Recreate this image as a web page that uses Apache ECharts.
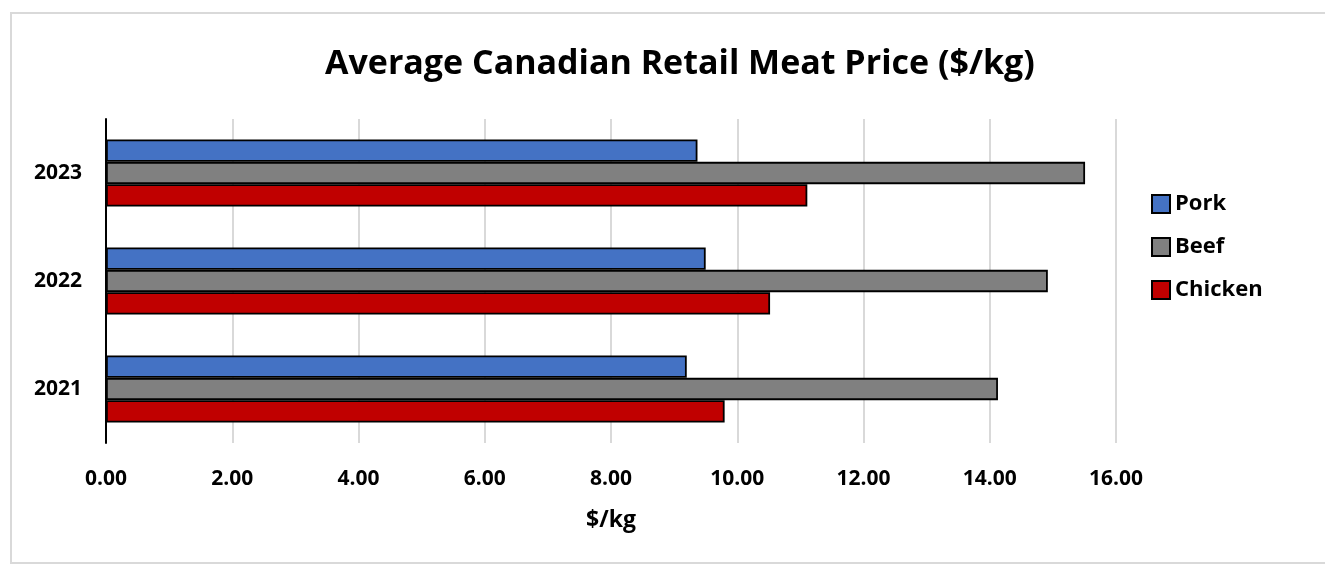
<!DOCTYPE html>
<html>
<head>
<meta charset="utf-8">
<title>Average Canadian Retail Meat Price</title>
<script src="https://cdn.jsdelivr.net/npm/echarts@6/dist/echarts.min.js"></script>
<style>
  html, body { margin: 0; padding: 0; background: #ffffff; }
  #frame {
    position: absolute; left: 10px; top: 12px; width: 1330px; height: 552px;
    border: 2px solid #d9d9d9; box-sizing: border-box;
  }
  #main { position: absolute; left: 0; top: 0; width: 1325px; height: 567px; }
</style>
</head>
<body>
<div id="frame"></div>
<div id="main"></div>
<script>
// data
const years = ['2021', '2022', '2023'];
const pork = [9.20, 9.50, 9.37];
const beef = [14.13, 14.92, 15.51];
const chicken = [9.80, 10.52, 11.11];
const xTicks = { min: 0, max: 16, interval: 2 };

const FONT = 'Open Sans';

const chart = echarts.init(document.getElementById('main'), null, { renderer: 'canvas' });

function barSeries(name, values, color) {
  return {
    name: name,
    type: 'bar',
    data: values,
    barGap: '0%',
    barCategoryGap: '38%',
    itemStyle: { color: color, borderColor: '#000000', borderWidth: 1.8 }
  };
}

const option = {
  backgroundColor: 'transparent',
  animation: false,
  textStyle: { fontFamily: FONT },
  title: {
    text: 'Average Canadian Retail Meat Price ($/kg)',
    left: 320,
    top: 42,
    textStyle: { fontFamily: FONT, fontSize: 34, fontWeight: 'bold', color: '#000000' }
  },
  legend: {
    orient: 'vertical',
    left: 1146,
    top: 188,
    icon: 'rect',
    itemWidth: 18,
    itemHeight: 18,
    itemGap: 21,
    data: ['Pork', 'Beef', 'Chicken'],
    itemStyle: { borderWidth: 2 },
    textStyle: { fontFamily: FONT, fontSize: 22, fontWeight: 'bold', color: '#000000' }
  },
  grid: { left: 106, right: 209, top: 119, bottom: 124, containLabel: false },
  xAxis: {
    type: 'value',
    min: xTicks.min,
    max: xTicks.max,
    interval: xTicks.interval,
    name: '$/kg',
    nameLocation: 'middle',
    nameGap: 66,
    nameTextStyle: { fontFamily: FONT, fontSize: 23, fontWeight: 'bold', color: '#000000' },
    axisLine: { show: false },
    axisTick: { show: false },
    axisLabel: {
      margin: 26,
      fontFamily: FONT, fontSize: 21, fontWeight: 'bold', color: '#000000',
      formatter: function (v) { return v.toFixed(2); }
    },
    splitLine: { show: true, lineStyle: { color: '#d9d9d9', width: 2 } }
  },
  yAxis: {
    type: 'category',
    data: years,
    axisLine: { show: true, lineStyle: { color: '#000000', width: 2 } },
    axisTick: { show: false },
    axisLabel: {
      margin: 24,
      fontFamily: FONT, fontSize: 21, fontWeight: 'bold', color: '#000000'
    }
  },
  series: [
    barSeries('Pork', pork, '#4472C4'),
    barSeries('Beef', beef, '#808080'),
    barSeries('Chicken', chicken, '#C00000')
  ]
};

chart.setOption(option);
</script>
</body>
</html>
